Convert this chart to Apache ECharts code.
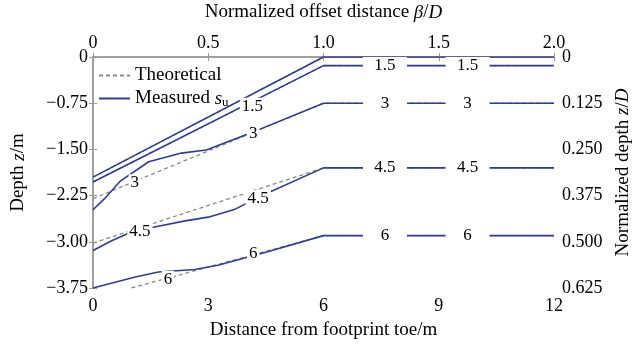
<!DOCTYPE html>
<html><head><meta charset="utf-8">
<script src="https://cdn.jsdelivr.net/npm/echarts@6/dist/echarts.min.js"></script>
<style>html,body{margin:0;padding:0;background:#fff}#c{width:635px;height:348px}</style>
</head><body><div id="c"></div>
<script>
// ---- data (x = distance from footprint toe, m; z = depth, m) ----
const xTicksBottom = [0, 3, 6, 9, 12];
const xTicksTop = ['0', '0.5', '1.0', '1.5', '2.0'];
const yTicksRight = ['0', '0.125', '0.250', '0.375', '0.500', '0.625'];

const theo0  = [[0, -1.95], [6, 0], [12, 0]];
const theo15 = [[0, -2.03], [6, -0.14], [12, -0.14]];
const theo3  = [[0, -2.30], [6, -0.75], [12, -0.75]];
const theo45 = [[0, -3.02], [6, -1.80], [12, -1.80]];
const theo6  = [[1.0, -3.75], [6, -2.90], [12, -2.90]];

const meas0  = [[0, -1.95], [6, 0], [12, 0]];
const meas15 = [[0, -2.03], [6, -0.14], [12, -0.14]];
const meas3  = [[0, -2.48], [0.3, -2.30], [0.7, -2.02], [1.45, -1.70], [2.3, -1.56], [2.95, -1.51], [4.0, -1.26], [6, -0.75], [12, -0.75]];
const meas45 = [[0, -3.14], [0.5, -2.98], [1.0, -2.84], [1.6, -2.76], [2.4, -2.66], [3.0, -2.60], [3.7, -2.47], [4.5, -2.22], [6, -1.80], [12, -1.80]];
const meas6  = [[0, -3.75], [1.1, -3.57], [1.7, -3.49], [2.65, -3.45], [3.25, -3.38], [4.5, -3.17], [6, -2.90], [12, -2.90]];

// contour labels [x, z, text]
const slopeLabels = [[4.15, -0.80, '1.5'], [1.09, -2.04, '3'], [4.17, -1.25, '3'], [1.22, -2.83, '4.5'], [4.3, -2.30, '4.5'], [1.95, -3.61, '6'], [4.17, -3.19, '6']];
const flatLabels = [[7.6, -0.14, '1.5'], [9.75, -0.14, '1.5'], [7.6, -0.75, '3'], [9.75, -0.75, '3'], [7.6, -1.80, '4.5'], [9.75, -1.80, '4.5'], [7.6, -2.90, '6'], [9.75, -2.90, '6']];

// ---- chart ----
const FONT = 'Liberation Serif';
const BLUE = '#2e3c99';
const GRAY = '#8a8a8a';
const AX = '#9a9a9a';

function theoSeries(d) {
  return { name: 'Theoretical', type: 'line', data: d, symbol: 'none', z: 2, xAxisIndex: 0, yAxisIndex: 0,
    lineStyle: { color: GRAY, width: 1.3, type: [4, 3] }, itemStyle: { color: GRAY }, silent: true, animation: false };
}
function measSeries(d) {
  return { name: 'Measured', type: 'line', data: d, symbol: 'none', z: 3, xAxisIndex: 0, yAxisIndex: 0,
    lineStyle: { color: BLUE, width: 1.6 }, itemStyle: { color: BLUE }, silent: true, animation: false };
}
function labelSeries(d, w) {
  return { type: 'scatter', data: d, symbolSize: 1, z: 10, xAxisIndex: 0, yAxisIndex: 0, animation: false, silent: true,
    itemStyle: { color: 'rgba(0,0,0,0)', opacity: 1 },
    label: { show: true, position: 'inside', formatter: p => p.data[2], color: '#000', opacity: 1, fontFamily: FONT, fontSize: 17,
      backgroundColor: '#ffffff', width: w, align: 'center', padding: [0, 2] } };
}

const axisLine = { show: true, lineStyle: { color: AX, width: 1.5 } };
const tickStyle = { show: true, inside: true, length: 4, lineStyle: { color: AX } };
const labelStyle = { color: '#000', fontFamily: FONT, fontSize: 18 };
const nameStyle = { color: '#000', fontFamily: FONT, fontSize: 19,
  rich: { n: { fontFamily: FONT, fontSize: 19, color: '#000' }, i: { fontFamily: FONT, fontSize: 19, fontStyle: 'italic', color: '#000' } } };

const chart = echarts.init(document.getElementById('c'), null, { renderer: 'canvas' });
chart.setOption({
  animation: false,
  backgroundColor: '#fff',
  grid: { left: 93, right: 81, top: 57, bottom: 60, containLabel: false, outerBoundsMode: 'none' },
  legend: {
    left: 93, top: 61, orient: 'vertical', itemGap: 4, itemWidth: 31, itemHeight: 16,
    data: ['Theoretical', 'Measured'],
    itemStyle: { opacity: 0 },
    textStyle: { color: '#000', fontFamily: FONT, fontSize: 19,
      rich: { i: { fontFamily: FONT, fontSize: 19, fontStyle: 'italic', color: '#000' },
              sub: { fontFamily: FONT, fontSize: 13, color: '#000', padding: [9, 0, 0, 0] } } },
    formatter: n => n === 'Measured' ? 'Measured {i|s}{sub|u}' : n
  },
  xAxis: [
    { type: 'value', position: 'bottom', min: 0, max: 12, interval: 3,
      name: 'Distance from footprint toe/m', nameLocation: 'middle', nameGap: 33, nameTextStyle: nameStyle,
      axisLine, axisTick: tickStyle, axisLabel: Object.assign({ margin: 9 }, labelStyle), splitLine: { show: false } },
    { type: 'value', position: 'top', min: 0, max: 2, interval: 0.5,
      name: '{n|Normalized offset distance }{i|β}{n|/}{i|D}', nameLocation: 'middle', nameGap: 35, nameTextStyle: nameStyle,
      axisLine, axisTick: tickStyle,
      axisLabel: Object.assign({ margin: 5, formatter: v => xTicksTop[Math.round(v / 0.5)] }, labelStyle), splitLine: { show: false } }
  ],
  yAxis: [
    { type: 'value', position: 'left', min: -3.75, max: 0, interval: 0.75,
      name: '{n|Depth }{i|z}{n|/m}', nameLocation: 'middle', nameGap: 65, nameTextStyle: nameStyle,
      axisLine, axisTick: tickStyle,
      axisLabel: Object.assign({ margin: 5, formatter: v => v === 0 ? '0' : '\u2212' + Math.abs(v).toFixed(2) }, labelStyle),
      splitLine: { show: false } },
    { type: 'value', position: 'right', min: 0, max: 0.625, interval: 0.125, inverse: true,
      name: '{n|Normalized depth }{i|z}{n|/}{i|D}', nameLocation: 'middle', nameGap: 59, nameTextStyle: nameStyle,
      axisLine, axisTick: tickStyle,
      axisLabel: Object.assign({ margin: 8, formatter: v => yTicksRight[Math.round(v / 0.125)] }, labelStyle),
      splitLine: { show: false } }
  ],
  series: [
    theoSeries(theo0), theoSeries(theo15), theoSeries(theo3), theoSeries(theo45), theoSeries(theo6),
    measSeries(meas0), measSeries(meas15), measSeries(meas3), measSeries(meas45), measSeries(meas6),
    labelSeries(slopeLabels, undefined), labelSeries(flatLabels, 40)
  ]
});
</script></body></html>
